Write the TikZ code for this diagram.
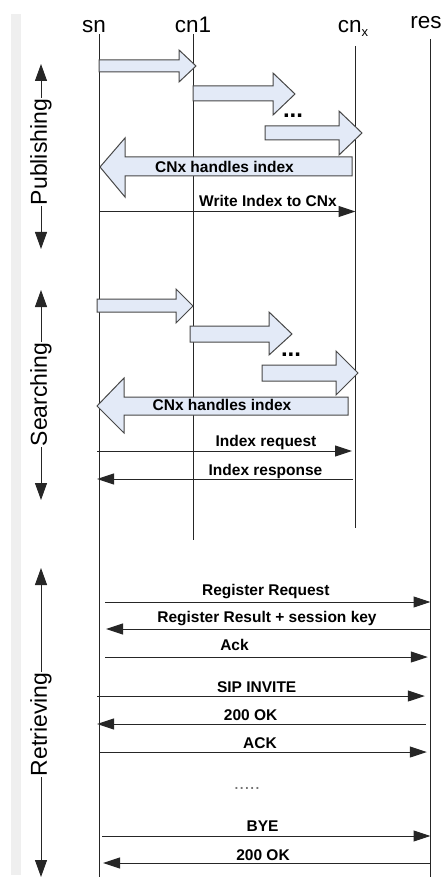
\documentclass[tikz,border=0pt]{standalone}
\usepackage{fontspec}
\setmainfont{Liberation Sans}
\usetikzlibrary{arrows.meta}
\definecolor{fatfill}{HTML}{E3EAF7}
\definecolor{linecol}{HTML}{262626}
\definecolor{stripcol}{HTML}{EFEFEF}
\begin{document}
\begin{tikzpicture}[x=1pt,y=-1pt,
  life/.style={draw=linecol,line width=1pt},
  fat/.style={draw=linecol!85,line width=1pt,fill=fatfill,line join=miter},
  msg/.style={draw=linecol,line width=1pt,-{Triangle[length=17pt,width=11pt]}},
  sectarrow/.style={draw=linecol,line width=1pt,-{Triangle[length=17pt,width=12pt]}},
  lbl/.style={font=\fontsize{15.5}{18}\selectfont\bfseries,anchor=base,inner sep=0pt},
  colhead/.style={font=\fontsize{22.5}{26}\selectfont,anchor=base,inner sep=0pt},
  secthead/.style={font=\fontsize{23}{27}\selectfont,rotate=90,inner sep=1pt},
  dotsbig/.style={font=\fontsize{24}{24}\selectfont\bfseries,anchor=base,inner sep=0pt},
  dotssmall/.style={font=\fontsize{19}{19}\selectfont,text=black!55,anchor=base,inner sep=0pt},
]
\useasboundingbox (0,0) rectangle (446,877);
\fill[stripcol] (11,14) rectangle (20.5,875);

% column heads
\node[colhead] (snlbl) at (94,33) {sn};
\node[colhead] (cn1lbl) at (193,33) {cn1};
\node[colhead] (cnxlbl) at (353,33) {cn\raisebox{-4pt}{\fontsize{13}{13}\selectfont x}};
\node[colhead] (reslbl) at (426,29) {res};

% lifelines
\coordinate (snT) at (99.5,34);  \coordinate (snB) at (99.5,877);
\coordinate (cnoT) at (193.5,34);  \coordinate (cnoB) at (193.5,540);
\coordinate (cnxT) at (355.5,46); \coordinate (cnxB) at (355.5,528);
\coordinate (resT) at (430.5,39); \coordinate (resB) at (430.5,877);
\draw[life] (snT) -- (snB);
\draw[life] (cnoT) -- (cnoB);
\draw[life] (cnxT) -- (cnxB);
\draw[life] (resT) -- (resB);

% section labels
\node[secthead] (pub) at (41,152) {Publishing};
\draw[sectarrow] (pub.east) -- (41,64);
\draw[sectarrow] (pub.west) -- (41,249);
\node[secthead] (srch) at (41,394.5) {Searching};
\draw[sectarrow] (srch.east) -- (41,290);
\draw[sectarrow] (srch.west) -- (41,500);
\node[secthead] (retr) at (41,724.5) {Retrieving};
\draw[sectarrow] (retr.east) -- (41,568);
\draw[sectarrow] (retr.west) -- (41,877);

% Publishing block arrows
\draw[fat] (99,60) -- (179,60) -- (179,50) -- (196,66) -- (179,82) -- (179,72) -- (99,72) -- cycle;
\draw[fat] (193,86) -- (273,86) -- (273,73) -- (295,94) -- (273,115) -- (273,101) -- (193,101) -- cycle;
\node[dotsbig] (pdots) at (293,117.7) {...};
\draw[fat] (265,126) -- (339,126) -- (339,111) -- (362,133) -- (339,155) -- (339,140) -- (265,140) -- cycle;
\draw[fat] (352,157) -- (125,157) -- (125,138) -- (100,167) -- (125,197) -- (125,176) -- (352,176) -- cycle;
\node[lbl] (ph) at (224.5,172.5) {CNx handles index};
\draw[msg] (snT |- 0,211.5) -- (cnxT |- 0,211.5);
\node[lbl] (pw) at (268,207) {Write Index to CNx};

% Searching block arrows
\draw[fat] (97,299) -- (176,299) -- (176,289) -- (193,306) -- (176,323) -- (176,312) -- (97,312) -- cycle;
\draw[fat] (190,326) -- (269,326) -- (269,312) -- (292,334) -- (269,355) -- (269,342) -- (190,342) -- cycle;
\node[dotsbig] (sdots) at (291,356.5) {...};
\draw[fat] (262,365) -- (336,365) -- (336,351) -- (358,373) -- (336,395) -- (336,381) -- (262,381) -- cycle;
\draw[fat] (348,397) -- (124,397) -- (124,378) -- (97,406) -- (124,433) -- (124,415) -- (348,415) -- cycle;
\node[lbl] (sh) at (222,410.5) {CNx handles index};
\draw[msg, shorten <=-2.5pt, shorten >=3.5pt] (snT |- 0,451) -- (cnxT |- 0,451);
\node[lbl] (sreq) at (266,446.5) {Index request};
\draw[msg, shorten <=2.5pt, shorten >=-2.5pt] (cnxT |- 0,479) -- (snT |- 0,479);
\node[lbl] (sresp) at (265.5,475) {Index response};

% Retrieving messages
\draw[msg, shorten <=5.5pt] (snT |- 0,602) -- (resT |- 0,602);
\node[lbl] (r1) at (265.8,595) {Register Request};
\draw[msg, shorten >=6.5pt] (resT |- 0,629) -- (snT |- 0,629);
\node[lbl] (r2) at (267,622.5) {Register Result + session key};
\draw[msg, shorten <=5.5pt, shorten >=2.7pt] (snT |- 0,657) -- (resT |- 0,657);
\node[lbl] (r3) at (234.5,650.5) {Ack};
\draw[msg, shorten <=-2.5pt, shorten >=5.7pt] (snT |- 0,696) -- (resT |- 0,696);
\node[lbl] (r4) at (256.7,692) {SIP INVITE};
\draw[msg, shorten <=4.7pt, shorten >=-2.5pt] (resT |- 0,724) -- (snT |- 0,724);
\node[lbl] (r5) at (250.7,720) {200 OK};
\draw[msg, shorten >=3.7pt] (snT |- 0,752) -- (resT |- 0,752);
\node[lbl] (r6) at (260,748) {ACK};
\node[dotssmall] (rdots) at (247,789.5) {.....};
\draw[msg, shorten <=2.5pt] (snT |- 0,836) -- (resT |- 0,836);
\node[lbl] (r7) at (262.5,831.5) {BYE};
\draw[msg, shorten >=3.5pt] (resT |- 0,863) -- (snT |- 0,863);
\node[lbl] (r8) at (263,860) {200 OK};
\end{tikzpicture}
\end{document}
